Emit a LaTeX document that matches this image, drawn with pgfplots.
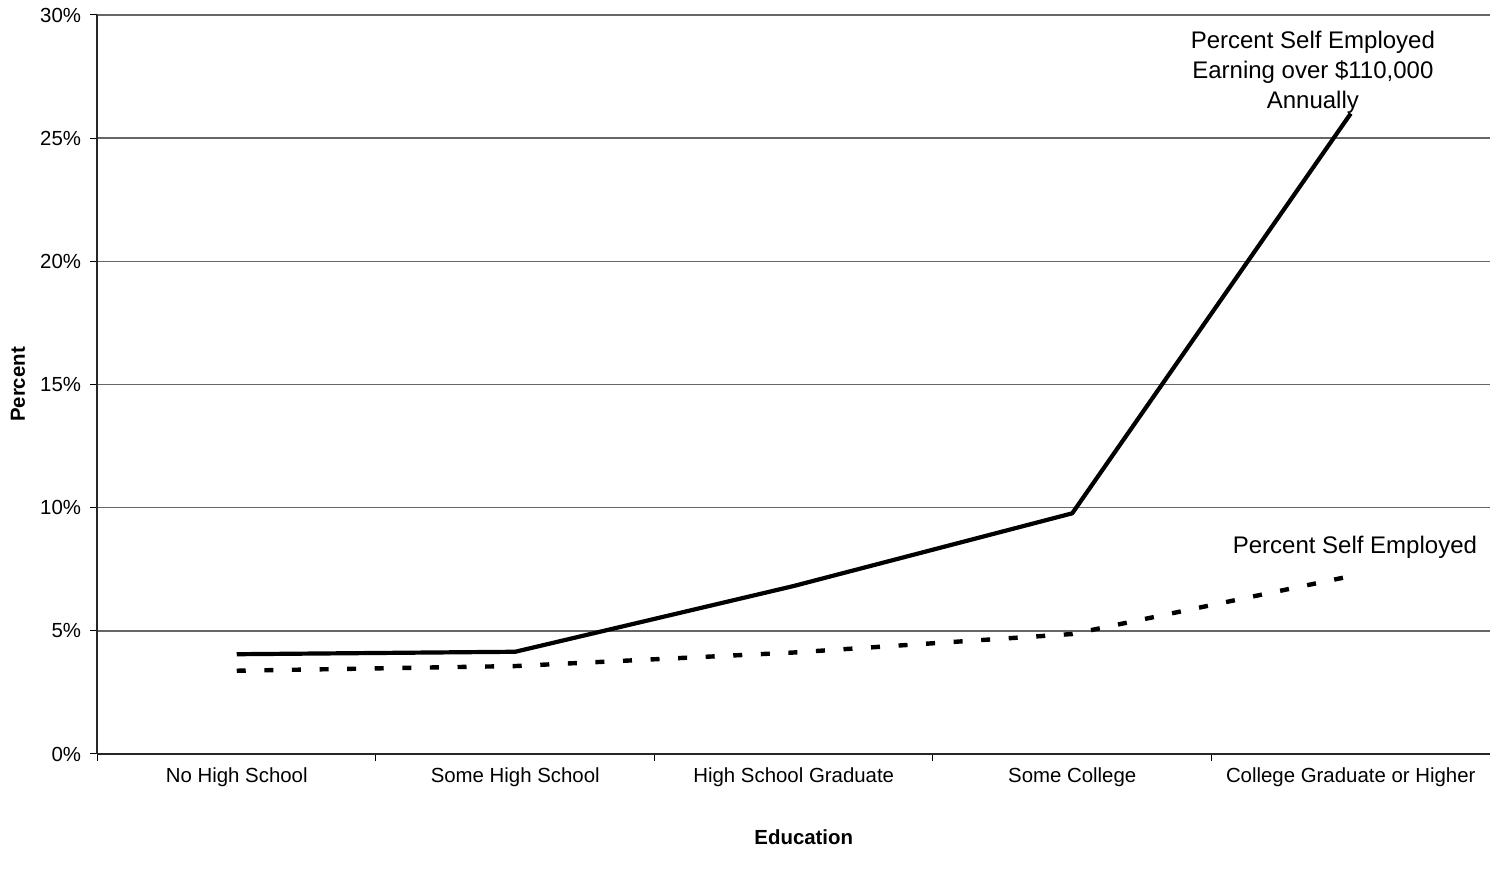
\documentclass[border=0pt]{standalone}
\usepackage{fontspec}
\setmainfont{Liberation Sans}
\usepackage{pgfplots}
\pgfplotsset{compat=1.18}
\begin{document}
\begin{tikzpicture}
\begin{axis}[
  scale only axis, width=696.25pt, height=369.5pt,
  at={(0,0)}, anchor=south west,
  xmin=-0.5, xmax=4.5, ymin=0, ymax=30,
  axis x line*=bottom, axis y line*=left,
  axis line style={-, black!85, line width=1pt},
  xtick={0,...,4},
  xticklabels={No High School, Some High School, High School Graduate, Some College, College Graduate or Higher},
  major x tick style={draw=none},
  minor xtick={-0.5,0.5,1.5,2.5,3.5},
  ytick={0,5,...,30},
  yticklabel={\pgfmathprintnumber{\tick}\%},
  /pgf/number format/assume math mode=true,
  tick align=outside,
  major tick length=3.5pt, minor tick length=3.5pt,
  tick style={black, line width=0.5pt},
  ymajorgrids, grid style={black!60, line width=0.7pt},
  ticklabel style={font=\fontsize{10.2}{12}\selectfont},
  yticklabel style={xshift=-1.2pt},
  xlabel={Education}, ylabel={Percent},
  label style={font=\fontsize{10.2}{12}\selectfont\bfseries},
  xlabel style={at={(axis description cs:0.5072,-0.1123)}, anchor=center},
  ylabel style={at={(axis description cs:-0.0571,0.5)}, anchor=center},
  clip=false,
]
\addplot[black, mark=none, line width=2.1pt, line join=round]
  coordinates {(0,4.05) (1,4.15) (2,6.82) (3,9.77) (4,26.0)};
\addplot[black, mark=none, line width=2.2pt, dash pattern=on 4.5pt off 9.3pt]
  coordinates {(0,3.38) (1,3.57) (2,4.12) (3,4.87) (4,7.22)};
\node[align=center, font=\fontsize{12}{15}\selectfont] at (axis cs:3.864,27.69)
  {Percent Self Employed\\Earning over \$110,000\\Annually};
\node[font=\fontsize{12}{14}\selectfont] at (axis cs:4.015,8.40) {Percent Self Employed};
\end{axis}
\pgfresetboundingbox
\path[use as bounding box] (-48.75pt,-61.5pt) rectangle (696.25pt,377pt);
\end{tikzpicture}
\end{document}
